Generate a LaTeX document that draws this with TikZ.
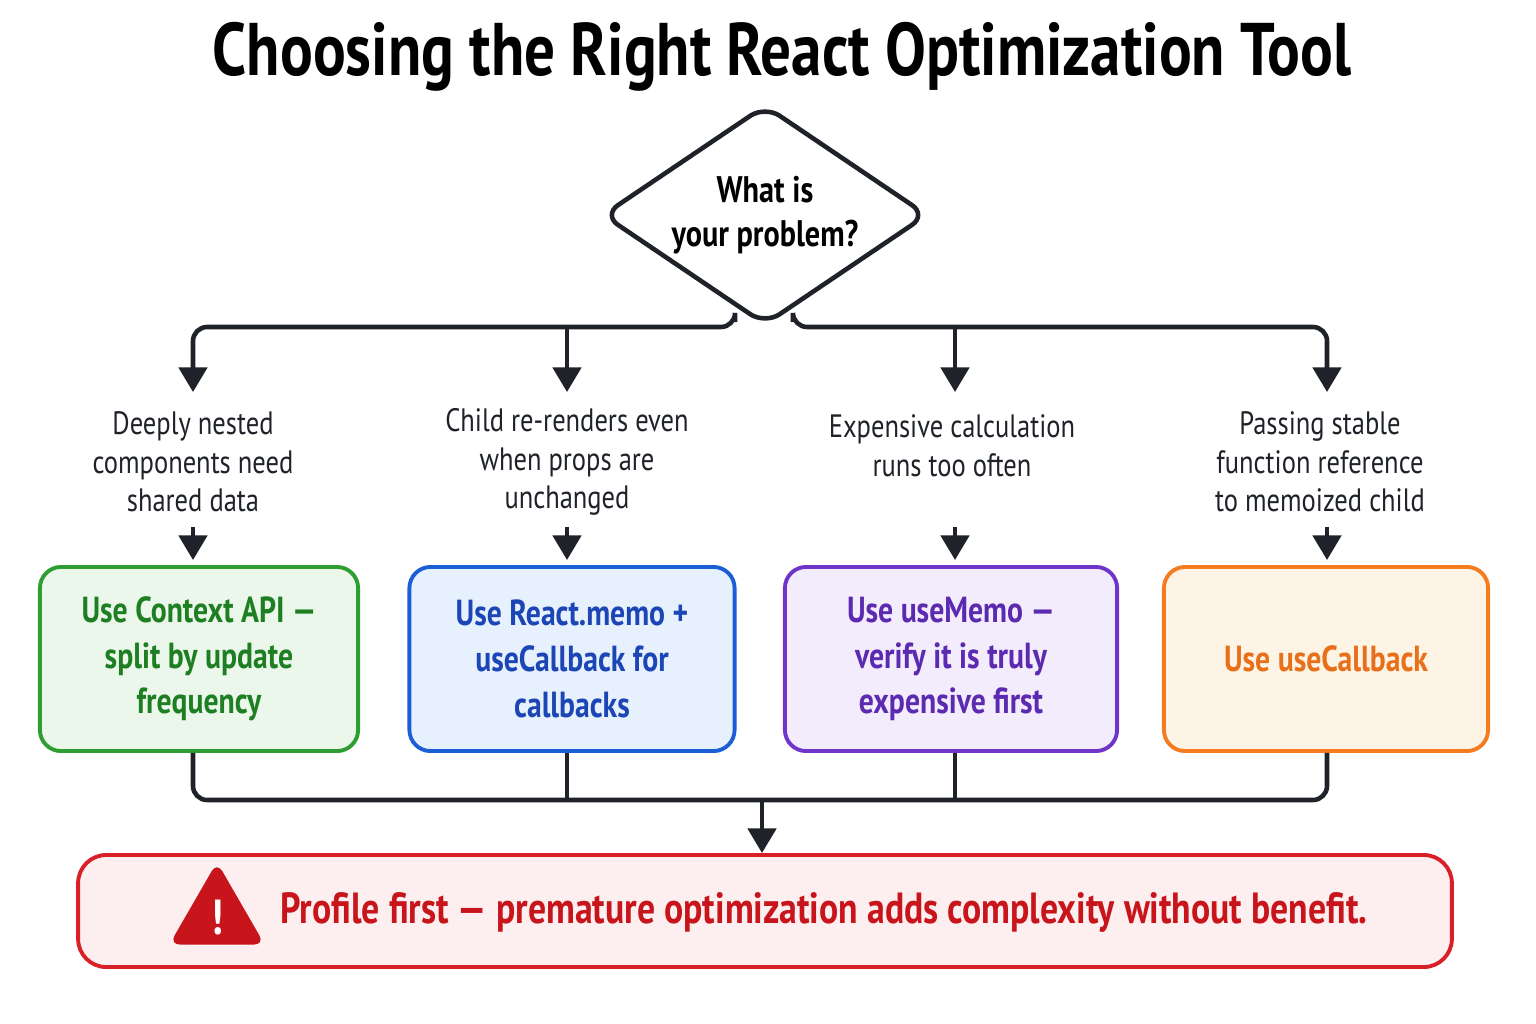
\documentclass[tikz,border=0pt]{standalone}
\usepackage{fontspec}
\setmainfont{PT Sans}[FakeStretch=0.82]
\usetikzlibrary{shapes.geometric,arrows.meta}
\definecolor{ink}{HTML}{1F2329}
\definecolor{gline}{HTML}{2E9E32}\definecolor{gfill}{HTML}{EAF7EA}\definecolor{gtext}{HTML}{1E7E22}
\definecolor{bline}{HTML}{1A5FD6}\definecolor{bfill}{HTML}{E7F0FD}\definecolor{btext}{HTML}{1C45B5}
\definecolor{pline}{HTML}{6F35C9}\definecolor{pfill}{HTML}{F2ECFC}\definecolor{ptext}{HTML}{5B2AB0}
\definecolor{oline}{HTML}{F47B20}\definecolor{ofill}{HTML}{FEF4E5}\definecolor{otext}{HTML}{E8701A}
\definecolor{rline}{HTML}{D92027}\definecolor{rfill}{HTML}{FDEFEF}\definecolor{rtext}{HTML}{C8151B}
\tikzset{
  flow/.style={draw=ink,line width=1.3pt,-{Triangle[length=7pt,width=8pt]}},
  link/.style={draw=ink,line width=1.3pt},
  case/.style={align=center,font=\fontsize{9.2}{11}\selectfont,text=ink},
  tool/.style={rounded corners=6pt,line width=1.1pt,minimum width=#1,minimum height=1.84cm,
    align=center,font=\fontsize{10.3}{13}\selectfont\bfseries},
}
\begin{document}
\begin{tikzpicture}[x=0.01cm,y=-0.01cm]
\useasboundingbox[fill=white] (0,0) rectangle (1536,1024);
\node (title) at (782,57) {\fontsize{21.2}{24}\selectfont\bfseries Choosing the Right React Optimization Tool};
% decision
\node[diamond,draw=ink,line width=1.3pt,rounded corners=5pt,minimum width=3.25cm,minimum height=2.2cm,
  aspect=1.45,align=center,font=\fontsize{10.5}{12.5}\selectfont\bfseries,inner sep=0pt] (ask) at (765,215) {What is\\your problem?};
\coordinate (askl) at (735,322);
\coordinate (askr) at (793,322);
% cases
\node[case] (c1) at (193,462) {Deeply nested\\components need\\shared data};
\node[case] (c2) at (567,462) {Child re-renders even\\when props are\\unchanged};
\node[case] (c3) at (952,446) {Expensive calculation\\runs too often};
\node[case] (c4) at (1320,462) {Passing stable\\function reference\\to memoized child};
% tools
\node[tool=3.18cm,draw=gline,fill=gfill,text=gtext] (t1) at (199,659) {Use Context API —\\split by update\\frequency};
\node[tool=3.25cm,draw=bline,fill=bfill,text=btext] (t2) at (572,659) {Use React.memo +\\useCallback for\\callbacks};
\node[tool=3.32cm,draw=pline,fill=pfill,text=ptext] (t3) at (951,659) {Use useMemo —\\verify it is truly\\expensive first};
\node[tool=3.24cm,draw=oline,fill=ofill,text=otext] (t4) at (1326,659) {Use useCallback};
% branches
\draw[flow,rounded corners=4pt] (askl) |- (193,327) -- (193,392);
\draw[flow] (567,327) -- (567,392);
\draw[flow,rounded corners=4pt] (askr) |- (1327,327) -- (1327,392);
\draw[flow] (955,327) -- (955,392);
\foreach \x in {193,567,955,1327} \draw[flow] (\x,527) -- (\x,560);
% merge
\coordinate (m1) at (193,800);
\coordinate (m4) at (1327,800);
\draw[link,rounded corners=4pt] (t1.south -| m1) -- (m1) -- (m4) -- (t4.south -| m4);
\draw[link] (t2.south -| 567,0) -- (567,800);
\draw[link] (t3.south -| 955,0) -- (955,800);
\node[rounded corners=8pt,draw=rline,fill=rfill,line width=1.1pt,minimum width=13.73cm,minimum height=1.12cm] (note) at (765,911) {};
\draw[flow] (762,800) -- (note.north -| 762,0);
\node[regular polygon,regular polygon sides=3,fill=rtext,rounded corners=3pt,minimum size=1.1cm,inner sep=0pt] (warn) at (217,917) {};
\node[text=white,font=\fontsize{14}{14}\selectfont\bfseries] at (217,918) {!};
\node[anchor=west,text=rtext,font=\fontsize{12.4}{14}\selectfont\bfseries] (msg) at (268,912) {Profile first — premature optimization adds complexity without benefit.};
\end{tikzpicture}
\end{document}
